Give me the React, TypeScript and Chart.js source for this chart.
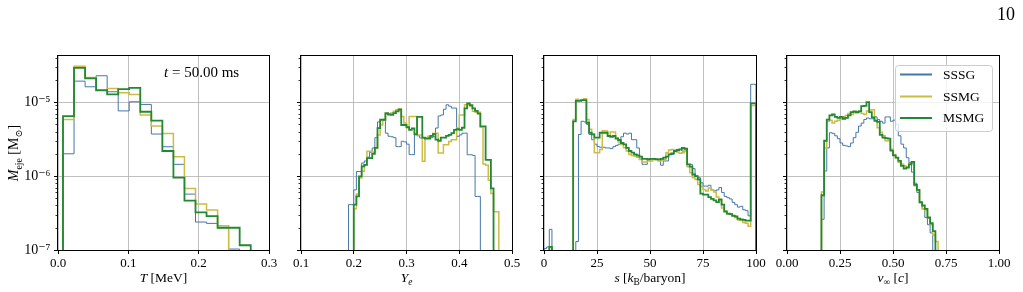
import React, { useEffect, useRef } from 'react';
import { Chart, registerables } from 'chart.js';

Chart.register(...registerables);
Chart.defaults.font.family = '"Liberation Serif", "DejaVu Serif", serif';

// ---------- series ----------
const SERIES_LABELS = ['SSSG', 'SSMG', 'MSMG'];
const SERIES_COLORS = ['#4477AA', '#CCBB44', '#228833'];
const SERIES_WIDTHS = [1.0, 1.5, 1.8];

// ---------- y axis (shared, logarithmic) ----------
const Y_MIN = 1e-7;
const Y_MAX = 4.2e-5;
const Y_TICKS = [1e-7, 1e-6, 1e-5];
const Y_TICK_LABELS = ['10\u207B\u2077', '10\u207B\u2076', '10\u207B\u2075'];

// ---------- panel 1: temperature T [MeV] ----------
const T_BIN_START = 0.0071;
const T_BIN_WIDTH = 0.0157;
const T_SSSG = [2.0e-6, 1.92e-5, 1.61e-5, 2.27e-5, 1.38e-5, 7.6e-6, 1.01e-5, 9.3e-6, 3.7e-6, 2.49e-6, 1.44e-6, 5.7e-7, 2.39e-7, 2.29e-7, 2.0e-7, 1.03e-7, 0];
const T_SSMG = [5.83e-6, 3.06e-5, 2.15e-5, 1.42e-5, 1.53e-5, 1.34e-5, 1.27e-5, 6.7e-6, 4.74e-6, 3.77e-6, 1.82e-6, 6.8e-7, 4.19e-7, 3.47e-7, 2.13e-7, 0, 0];
const T_MSMG = [6.47e-6, 2.91e-5, 2.09e-5, 1.45e-5, 1.27e-5, 1.5e-5, 1.56e-5, 7.4e-6, 5.6e-6, 2.18e-6, 9.5e-7, 4.64e-7, 3.23e-7, 2.88e-7, 2.0e-7, 2.0e-7, 1.16e-7];
const T_TICKS = [0, 0.1, 0.2, 0.3];
const T_TICK_LABELS = ['0.0', '0.1', '0.2', '0.3'];

// ---------- panel 2: electron fraction Y_e ----------
const YE_BIN_START = 0.19;
const YE_BIN_WIDTH = 0.005;
const YE_SSSG = [
  4.1e-7, 4.1e-7, 6.5e-7, 1.15e-6, 1.15e-6, 1.5e-6, 1.6e-6, 1.8e-6, 2.1e-6, 2.4e-6,
  3.3e-6, 5.4e-6, 5.8e-6, 5.8e-6, 3.8e-6, 3.45e-6, 3.4e-6, 3.3e-6, 2.5e-6, 2.5e-6,
  2.95e-6, 2.9e-6, 2.7e-6, 1.95e-6, 1.95e-6, 3.6e-6, 3.5e-6, 3.27e-6, 3.27e-6, 3.3e-6,
  3.3e-6, 3.3e-6, 3.4e-6, 4.46e-6, 6.5e-6, 6.7e-6, 8.0e-6, 9.2e-6, 8.8e-6, 8.3e-6,
  8.3e-6, 3.44e-6, 3.6e-6, 3.8e-6, 3.8e-6, 1.94e-6, 1.94e-6, 1.9e-6, 5.3e-7, 5.3e-7,
  0, 0, 0, 0, 0, 0, 0,
];
const YE_SSMG = [
  0, 0, 3.6e-7, 5.7e-7, 9.4e-7, 1.16e-6, 1.42e-6, 2.16e-6, 2.16e-6, 2.1e-6,
  2.4e-6, 3.6e-6, 4.9e-6, 5.8e-6, 6.9e-6, 6.9e-6, 7.1e-6, 7.5e-6, 7.9e-6, 8.1e-6,
  6.4e-6, 5.2e-6, 4.45e-6, 6.4e-6, 6.4e-6, 6.4e-6, 3.6e-6, 3.6e-6, 1.58e-6, 3.27e-6,
  3.44e-6, 3.44e-6, 3.8e-6, 3.8e-6, 2.05e-6, 2.05e-6, 2.65e-6, 2.65e-6, 2.94e-6, 3.1e-6,
  3.1e-6, 4.46e-6, 6.7e-6, 6.7e-6, 9.2e-6, 9.2e-6, 8.7e-6, 7.5e-6, 7.3e-6, 7.3e-6,
  4.6e-6, 1.45e-6, 1.4e-6, 8.8e-7, 5.8e-7, 3.3e-7, 3.3e-7,
];
const YE_MSMG = [
  0, 0, 4.1e-7, 5.3e-7, 9.9e-7, 1.35e-6, 1.42e-6, 1.75e-6, 1.75e-6, 2.0e-6,
  2.4e-6, 4.45e-6, 5.77e-6, 5.77e-6, 7.1e-6, 6.8e-6, 6.7e-6, 7.1e-6, 7.5e-6, 7.9e-6,
  4.9e-6, 4.9e-6, 4.6e-6, 4.2e-6, 4.4e-6, 3.7e-6, 6.3e-6, 6.3e-6, 3.3e-6, 3.2e-6,
  3.2e-6, 3.5e-6, 3.7e-6, 3.1e-6, 3.0e-6, 3.3e-6, 3.3e-6, 3.5e-6, 3.6e-6, 3.8e-6,
  4.2e-6, 4.3e-6, 4.2e-6, 4.5e-6, 8.2e-6, 9.6e-6, 9.1e-6, 8.2e-6, 7.6e-6, 7.0e-6,
  4.7e-6, 4.7e-6, 1.65e-6, 1.65e-6, 6.8e-7, 0, 0,
];
const YE_TICKS = [0.1, 0.2, 0.3, 0.4, 0.5];
const YE_TICK_LABELS = ['0.1', '0.2', '0.3', '0.4', '0.5'];

// ---------- panel 3: entropy s [k_B/baryon] ----------
const S_BIN_START = 0;
const S_BIN_WIDTH = 1.25;
const S_SSSG = [
  1.05e-7, 1.1e-7, 1.9e-7, 0, 0, 0, 0, 0, 0, 0,
  0, 0, 1.3e-7, 3.65e-6, 5.5e-6, 5.4e-6, 5.0e-6, 3.65e-6, 3.1e-6, 2.7e-6,
  2.5e-6, 2.45e-6, 2.45e-6, 2.4e-6, 2.4e-6, 2.35e-6, 2.5e-6, 2.6e-6, 2.7e-6, 3.4e-6,
  3.8e-6, 3.7e-6, 3.8e-6, 3.1e-6, 3.1e-6, 2.4e-6, 1.7e-6, 1.44e-6, 1.44e-6, 1.7e-6,
  1.71e-6, 1.71e-6, 1.71e-6, 1.68e-6, 1.4e-6, 1.6e-6, 1.6e-6, 1.96e-6, 1.96e-6, 2.2e-6,
  2.29e-6, 2.29e-6, 2.18e-6, 2.18e-6, 1.44e-6, 1.44e-6, 1.26e-6, 1.0e-6, 9.5e-7, 8.1e-7,
  7.3e-7, 7.3e-7, 7.5e-7, 6.5e-7, 6.3e-7, 6.5e-7, 7.0e-7, 6.0e-7, 5.3e-7, 5.1e-7,
  4.9e-7, 4.4e-7, 4.1e-7, 3.8e-7, 3.9e-7, 3.5e-7, 3.4e-7, 2.9e-7, 1.74e-5, 1.74e-5,
];
const S_SSMG = [
  0, 0, 1.1e-7, 0, 0, 0, 0, 0, 0, 0,
  0, 5.8e-6, 1.09e-5, 1.06e-5, 1.06e-5, 1.11e-5, 5.8e-6, 4.3e-6, 3.66e-6, 2.07e-6,
  2.07e-6, 2.29e-6, 4.1e-6, 4.06e-6, 3.48e-6, 3.93e-6, 3.93e-6, 3.3e-6, 2.88e-6, 2.68e-6,
  2.41e-6, 2.18e-6, 1.96e-6, 1.9e-6, 1.85e-6, 1.8e-6, 1.68e-6, 1.55e-6, 1.55e-6, 1.6e-6,
  1.6e-6, 1.68e-6, 1.68e-6, 1.6e-6, 1.64e-6, 1.68e-6, 2.07e-6, 2.25e-6, 2.29e-6, 2.18e-6,
  2.11e-6, 2.03e-6, 2.07e-6, 2.34e-6, 1.34e-6, 1.11e-6, 9.5e-7, 9.0e-7, 7.7e-7, 7.2e-7,
  6.6e-7, 6.3e-7, 6.9e-7, 6.5e-7, 6.1e-7, 5.2e-7, 4.9e-7, 3.7e-7, 3.4e-7, 3.1e-7,
  3.05e-7, 2.95e-7, 2.75e-7, 2.55e-7, 2.5e-7, 2.36e-7, 2.3e-7, 2.1e-7, 9.0e-6, 9.0e-6,
];
const S_MSMG = [
  0, 0, 1.1e-7, 0, 0, 0, 0, 0, 0, 0,
  0, 5.5e-6, 1.04e-5, 1.04e-5, 1.06e-5, 1.06e-5, 5.26e-6, 3.85e-6, 3.66e-6, 3.3e-6,
  3.3e-6, 3.85e-6, 3.85e-6, 3.85e-6, 3.48e-6, 3.4e-6, 3.48e-6, 3.2e-6, 3.07e-6, 2.8e-6,
  2.68e-6, 2.41e-6, 2.18e-6, 2.07e-6, 1.96e-6, 1.9e-6, 1.83e-6, 1.71e-6, 1.71e-6, 1.68e-6,
  1.71e-6, 1.71e-6, 1.68e-6, 1.68e-6, 1.71e-6, 1.77e-6, 1.83e-6, 1.96e-6, 2.03e-6, 2.18e-6,
  2.25e-6, 2.29e-6, 2.41e-6, 2.34e-6, 1.44e-6, 1.34e-6, 1.05e-6, 1.0e-6, 9.0e-7, 5.8e-7,
  5.6e-7, 5.6e-7, 5.2e-7, 4.9e-7, 4.7e-7, 4.45e-7, 4.8e-7, 4.1e-7, 3.3e-7, 3.1e-7,
  3.05e-7, 2.9e-7, 2.85e-7, 2.65e-7, 2.6e-7, 2.55e-7, 2.5e-7, 2.5e-7, 9.6e-6, 9.6e-6,
];
const S_TICKS = [0, 25, 50, 75, 100];
const S_TICK_LABELS = ['0', '25', '50', '75', '100'];

// ---------- panel 4: asymptotic velocity v_inf [c] ----------
const V_BIN_START = 0;
const V_BIN_WIDTH = 0.0125;
const V_SSSG = [
  0, 0, 0, 0, 0, 0, 0, 0, 0, 0,
  0, 0, 0, 2.6e-7, 1.17e-6, 2.4e-6, 3.85e-6, 3.78e-6, 3.5e-6, 3.2e-6,
  2.8e-6, 2.6e-6, 2.55e-6, 2.5e-6, 2.8e-6, 3.3e-6, 3.9e-6, 4.74e-6, 5.2e-6, 5.83e-6,
  6.1e-6, 5.95e-6, 5.95e-6, 6.3e-6, 5.8e-6, 5.5e-6, 5.2e-6, 6.3e-6, 6.3e-6, 5.5e-6,
  5.7e-6, 5.0e-6, 3.5e-6, 2.7e-6, 2.4e-6, 1.77e-6, 1.52e-6, 1.13e-6, 8.0e-7, 6.0e-7,
  4.5e-7, 3.6e-7, 2.75e-7, 2.2e-7, 1.7e-7, 0, 0, 0,
];
const V_SSMG = [
  0, 0, 0, 0, 0, 0, 0, 0, 0, 0,
  0, 0, 0, 6.1e-7, 2.4e-6, 5.5e-6, 5.7e-6, 5.2e-6, 5.5e-6, 5.7e-6,
  5.95e-6, 6.3e-6, 6.6e-6, 7.0e-6, 6.8e-6, 7.2e-6, 7.1e-6, 7.6e-6, 7.0e-6, 6.8e-6,
  7.6e-6, 7.8e-6, 7.9e-6, 5.5e-6, 4.5e-6, 3.9e-6, 3.5e-6, 3.0e-6, 3.0e-6, 2.3e-6,
  1.96e-6, 1.77e-6, 1.52e-6, 1.44e-6, 1.37e-6, 1.34e-6, 1.48e-6, 1.5e-6, 7.4e-7, 6.5e-7,
  4.4e-7, 3.6e-7, 3.45e-7, 2.7e-7, 2.2e-7, 1.6e-7, 1.3e-7, 0,
];
const V_MSMG = [
  0, 0, 0, 0, 0, 0, 0, 0, 0, 0,
  0, 0, 0, 5.5e-7, 3.0e-6, 5.8e-6, 6.6e-6, 6.8e-6, 6.3e-6, 6.1e-6,
  6.3e-6, 5.95e-6, 6.1e-6, 6.6e-6, 7.3e-6, 7.5e-6, 7.3e-6, 7.5e-6, 8.8e-6, 8.9e-6,
  1.0e-5, 7.3e-6, 6.2e-6, 5.6e-6, 5.4e-6, 3.6e-6, 3.3e-6, 3.25e-6, 3.2e-6, 2.2e-6,
  1.9e-6, 1.77e-6, 1.6e-6, 1.37e-6, 1.26e-6, 1.3e-6, 1.44e-6, 1.55e-6, 7.6e-7, 6.5e-7,
  4.4e-7, 4.0e-7, 3.6e-7, 2.75e-7, 2.3e-7, 1.8e-7, 0, 0,
];
const V_TICKS = [0, 0.25, 0.5, 0.75, 1.0];
const V_TICK_LABELS = ['0.00', '0.25', '0.50', '0.75', '1.00'];

// ---------- texts ----------
type Seg = { t: string; it?: boolean; sub?: boolean };
const Y_TITLE: Seg[] = [{ t: 'M', it: true }, { t: 'eje', sub: true }, { t: ' [M' }, { t: '\u2299', sub: true }, { t: ']' }];
const T_TITLE: Seg[] = [{ t: 'T', it: true }, { t: ' [MeV]' }];
const YE_TITLE: Seg[] = [{ t: 'Y', it: true }, { t: 'e', it: true, sub: true }];
const S_TITLE: Seg[] = [{ t: 's', it: true }, { t: ' [' }, { t: 'k', it: true }, { t: 'B', sub: true }, { t: '/baryon]' }];
const V_TITLE: Seg[] = [{ t: 'v', it: true }, { t: '\u221E', sub: true }, { t: ' [' }, { t: 'c', it: true }, { t: ']' }];
const TIME_LABEL: Seg[] = [{ t: 't', it: true }, { t: ' = ' }, { t: '50.00 ms' }];
const PAGE_NUMBER = '10';

// ---------- layout ----------
const CANVAS_H = 292;
const PLOT_TOP = 56;
const PLOT_BOTTOM = 250;
const PAD_LEFT = 60;
const PAD_RIGHT = 26;
const FONT = '"Liberation Serif", "DejaVu Serif", serif';
const BASE = 1e-9;

type Panel = {
  left: number; width: number; start: number; bin: number; series: number[][];
  xMin: number; xMax: number; ticks: number[]; tickLabels: string[]; title: Seg[];
  yLabels: boolean; time: boolean; legend: boolean;
};

const PANELS: Panel[] = [
  { left: 58, width: 211, start: T_BIN_START, bin: T_BIN_WIDTH, series: [T_SSSG, T_SSMG, T_MSMG], xMin: 0, xMax: 0.3, ticks: T_TICKS, tickLabels: T_TICK_LABELS, title: T_TITLE, yLabels: true, time: true, legend: false },
  { left: 301, width: 211, start: YE_BIN_START, bin: YE_BIN_WIDTH, series: [YE_SSSG, YE_SSMG, YE_MSMG], xMin: 0.1, xMax: 0.5, ticks: YE_TICKS, tickLabels: YE_TICK_LABELS, title: YE_TITLE, yLabels: false, time: false, legend: false },
  { left: 544, width: 212, start: S_BIN_START, bin: S_BIN_WIDTH, series: [S_SSSG, S_SSMG, S_MSMG], xMin: 0, xMax: 100, ticks: S_TICKS, tickLabels: S_TICK_LABELS, title: S_TITLE, yLabels: false, time: false, legend: false },
  { left: 787, width: 212, start: V_BIN_START, bin: V_BIN_WIDTH, series: [V_SSSG, V_SSMG, V_MSMG], xMin: 0, xMax: 1, ticks: V_TICKS, tickLabels: V_TICK_LABELS, title: V_TITLE, yLabels: false, time: false, legend: true },
];

function stepPoints(start: number, width: number, values: number[]) {
  const pts = [{ x: start, y: BASE }];
  values.forEach((v, i) => pts.push({ x: start + i * width, y: v > 0 ? v : BASE }));
  pts.push({ x: start + values.length * width, y: BASE });
  return pts;
}

function drawRich(ctx: CanvasRenderingContext2D, segs: Seg[], x: number, y: number, size: number, align: 'center' | 'left') {
  const parts = segs.map((s) => {
    const fs = s.sub ? size * 0.7 : size;
    const font = `${s.it ? 'italic ' : ''}${fs}px ${FONT}`;
    ctx.font = font;
    return { ...s, font, w: ctx.measureText(s.t).width, dy: s.sub ? size * 0.25 : 0 };
  });
  const total = parts.reduce((a, p) => a + p.w, 0);
  let cx = align === 'center' ? x - total / 2 : x;
  ctx.textAlign = 'left';
  ctx.textBaseline = 'alphabetic';
  ctx.fillStyle = '#000';
  parts.forEach((p) => {
    ctx.font = p.font;
    ctx.fillText(p.t, cx, y + p.dy);
    cx += p.w;
  });
}

function makePlugin(panel: Panel) {
  return {
    id: 'decor',
    afterDatasetsDraw(chart: any) {
      const { ctx, chartArea } = chart;
      const { left, right, top, bottom } = chartArea;
      const yScale = chart.scales.y;
      ctx.save();
      // frame
      ctx.strokeStyle = '#000';
      ctx.lineWidth = 1;
      ctx.strokeRect(left - 0.5, top - 0.5, right - left + 1, bottom - top + 1);
      // minor log ticks
      ctx.beginPath();
      for (const d of Y_TICKS) {
        for (let m = 2; m <= 9; m++) {
          const v = m * d;
          if (v > Y_MAX) continue;
          const py = Math.round(yScale.getPixelForValue(v)) + 0.5;
          ctx.moveTo(left - 2.5, py);
          ctx.lineTo(left, py);
        }
      }
      ctx.lineWidth = 0.8;
      ctx.stroke();
      // x title
      drawRich(ctx, panel.title, (left + right) / 2, bottom + 31.5, 13.5, 'center');
      if (panel.yLabels) {
        ctx.save();
        ctx.translate(left - 40, (top + bottom) / 2);
        ctx.rotate(-Math.PI / 2);
        drawRich(ctx, Y_TITLE, 0, 0, 14, 'center');
        ctx.restore();
      }
      if (panel.time) {
        drawRich(ctx, TIME_LABEL, left + 106, top + 20.5, 15, 'left');
      }
      if (panel.legend) {
        const bw = 97;
        const bh = 66;
        const bx = right - 7 - bw;
        const by = top + 9;
        ctx.beginPath();
        if ((ctx as any).roundRect) (ctx as any).roundRect(bx + 0.5, by + 0.5, bw, bh, 3);
        else ctx.rect(bx + 0.5, by + 0.5, bw, bh);
        ctx.fillStyle = 'rgba(255,255,255,0.8)';
        ctx.fill();
        ctx.strokeStyle = '#cccccc';
        ctx.lineWidth = 1;
        ctx.stroke();
        const rows = [9.5, 31.5, 53];
        chart.data.datasets.forEach((ds: any, i: number) => {
          const ry = by + rows[i];
          ctx.beginPath();
          ctx.moveTo(bx + 5, ry);
          ctx.lineTo(bx + 37, ry);
          ctx.strokeStyle = ds.borderColor;
          ctx.lineWidth = 2;
          ctx.stroke();
          ctx.fillStyle = '#000';
          ctx.font = `13.5px ${FONT}`;
          ctx.textAlign = 'left';
          ctx.textBaseline = 'middle';
          ctx.fillText(ds.label, bx + 48, ry + 0.5);
        });
      }
      ctx.restore();
    },
  };
}

function PanelChart({ panel }: { panel: Panel }) {
  const ref = useRef<HTMLCanvasElement | null>(null);
  const cw = PAD_LEFT + panel.width + PAD_RIGHT;
  useEffect(() => {
    if (!ref.current) return;
    const datasets = panel.series.map((vals, i) => ({
      label: SERIES_LABELS[i],
      data: stepPoints(panel.start, panel.bin, vals),
      borderColor: SERIES_COLORS[i],
      borderWidth: SERIES_WIDTHS[i],
      stepped: true,
      pointRadius: 0,
      fill: false,
      tension: 0,
      order: 2 - i,
      borderJoinStyle: 'miter' as const,
    }));
    const chart = new Chart(ref.current, {
      type: 'line',
      data: { datasets },
      options: {
        animation: false,
        responsive: false,
        events: [],
        layout: { padding: { left: 0, right: PAD_RIGHT, top: PLOT_TOP, bottom: 0 } },
        plugins: { legend: { display: false }, tooltip: { enabled: false }, title: { display: false } },
        scales: {
          x: {
            type: 'linear',
            min: panel.xMin,
            max: panel.xMax,
            afterBuildTicks: (s: any) => { s.ticks = panel.ticks.map((v) => ({ value: v })); },
            afterFit: (s: any) => { s.height = CANVAS_H - PLOT_BOTTOM; },
            ticks: {
              autoSkip: false, maxRotation: 0, minRotation: 0, padding: 2,
              color: '#000', font: { size: 13, family: FONT },
              callback: (_v: any, i: number) => panel.tickLabels[i],
            },
            grid: { color: '#b0b0b0', lineWidth: 0.8, tickColor: '#000', tickLength: 4, tickWidth: 1 },
            border: { display: false },
          },
          y: {
            type: 'logarithmic',
            min: Y_MIN,
            max: Y_MAX,
            afterBuildTicks: (s: any) => { s.ticks = Y_TICKS.map((v) => ({ value: v, major: true })); },
            afterFit: (s: any) => { s.width = PAD_LEFT; },
            ticks: {
              autoSkip: false, padding: 3.5,
              color: '#000', font: { size: 14, family: FONT },
              callback: (_v: any, i: number) => (panel.yLabels ? Y_TICK_LABELS[i] : ''),
            },
            grid: { color: '#b0b0b0', lineWidth: 0.8, tickColor: '#000', tickLength: 4, tickWidth: 1 },
            border: { display: false },
          },
        },
      },
      plugins: [makePlugin(panel)],
    } as any);
    return () => chart.destroy();
  }, [panel]);
  return (
    <canvas
      ref={ref}
      width={cw}
      height={CANVAS_H}
      style={{ position: 'absolute', left: panel.left - PAD_LEFT, top: 0, width: cw, height: CANVAS_H }}
    />
  );
}

export default function App() {
  return (
    <div style={{ position: 'fixed', left: 0, top: 0, width: 1023, height: 292, background: '#fff', overflow: 'hidden' }}>
      {PANELS.map((p, i) => (
        <PanelChart key={i} panel={p} />
      ))}
      <div style={{ position: 'absolute', left: 997, top: 4.5, fontFamily: FONT, fontSize: 18, lineHeight: '18px', color: '#000' }}>
        {PAGE_NUMBER}
      </div>
    </div>
  );
}
